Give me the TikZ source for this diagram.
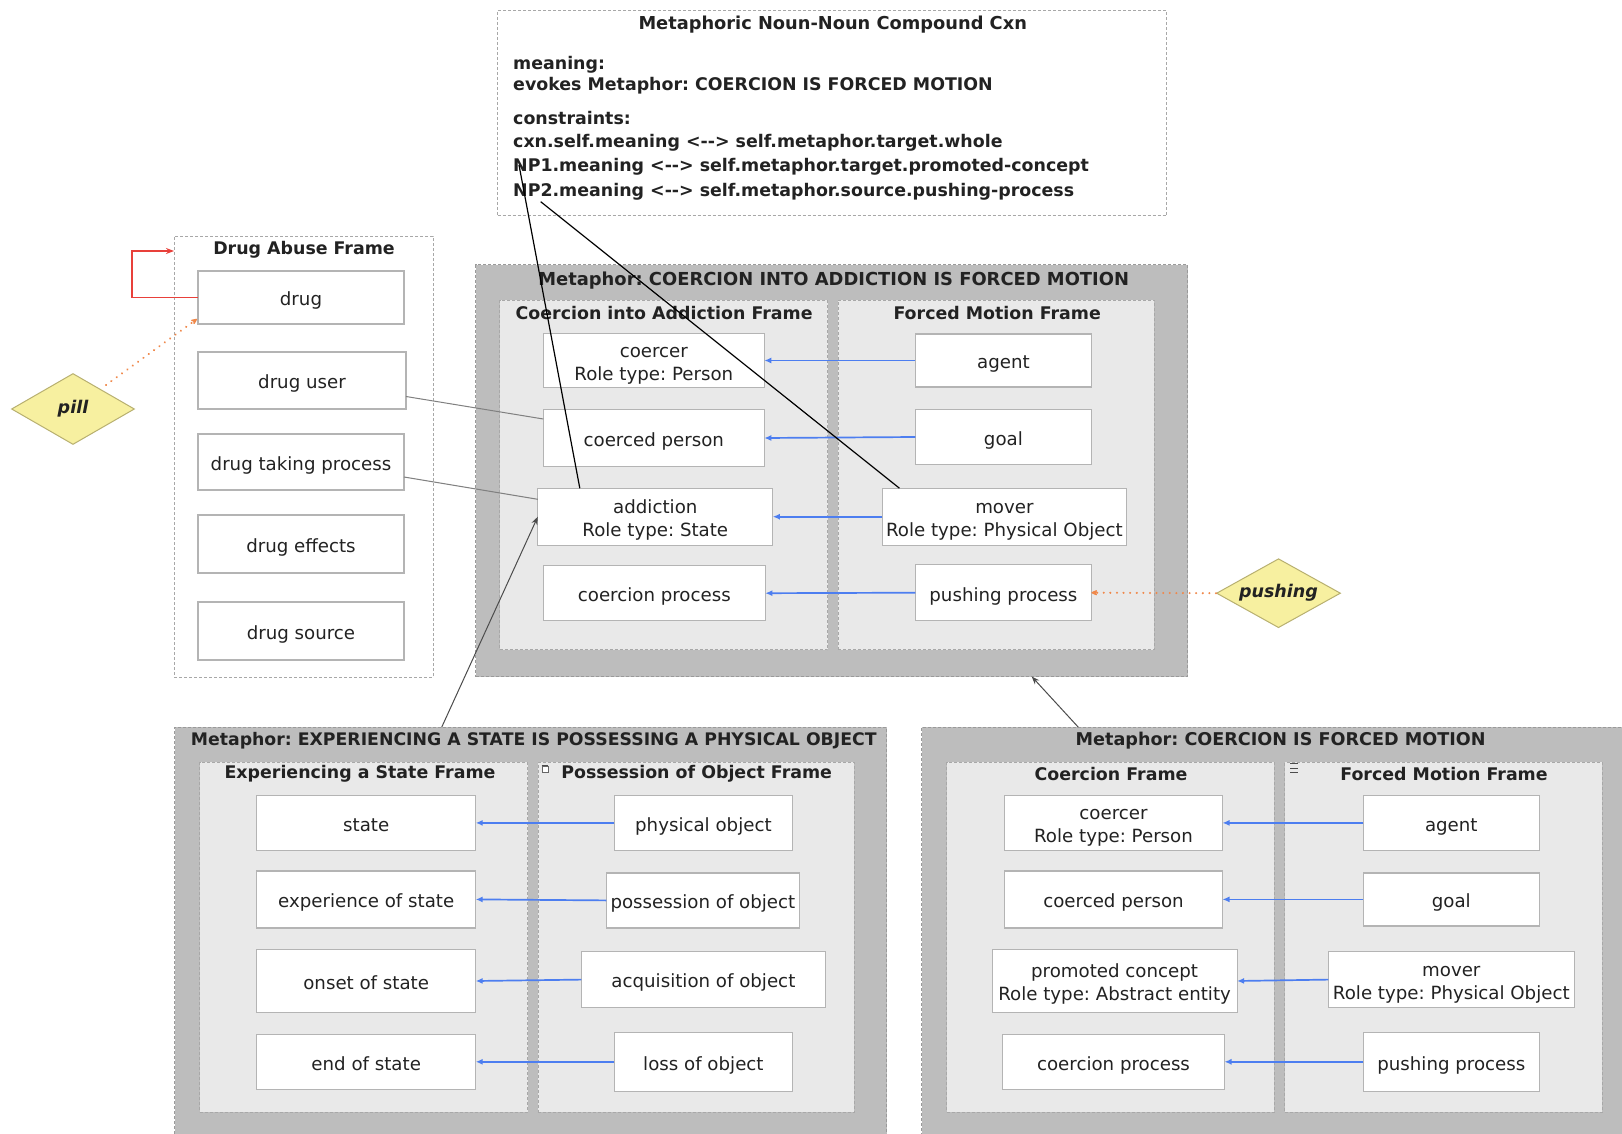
\documentclass[tikz,border=0pt]{standalone}
\usepackage{fontspec}
\setmainfont{DejaVu Sans}
\usetikzlibrary{shapes.geometric,arrows.meta,calc}
\frenchspacing
\definecolor{metafill}{HTML}{BDBDBD}
\definecolor{metaedge}{HTML}{9A9A9A}
\definecolor{framefill}{HTML}{E9E9E9}
\definecolor{frameedge}{HTML}{A8A8A8}
\definecolor{boxedge}{HTML}{B4B4B4}
\definecolor{mapblue}{HTML}{4D7EF0}
\definecolor{evorange}{HTML}{F0884A}
\definecolor{linkred}{HTML}{E8403A}
\definecolor{dfill}{HTML}{F7F0A0}
\definecolor{dedge}{HTML}{B8B070}
\definecolor{txt}{HTML}{222222}
\newcommand\rt[1]{\begin{tabular}{@{}c@{}}\rule{0pt}{23.5pt}#1\end{tabular}}
\tikzset{
  rolebox/.style={draw=boxedge, fill=white, line width=1.2pt, inner sep=0pt, outer sep=0pt,
    text=txt, font=\fontsize{18.2}{23}\selectfont},
  plainframe/.style={draw=frameedge, fill=white, line width=0.8pt, dash pattern=on 3pt off 2pt,
    inner sep=0pt, outer sep=0pt},
  metabox/.style={draw=metaedge, fill=metafill, line width=0.8pt, dash pattern=on 3pt off 2pt,
    inner sep=0pt, outer sep=0pt},
  innerframe/.style={draw=frameedge, fill=framefill, line width=0.8pt, dash pattern=on 3pt off 2pt,
    inner sep=0pt, outer sep=0pt},
  ttl/.style={text=txt, inner sep=0pt, font=\bfseries\fontsize{#1}{20}\selectfont},
  ttl/.default=17.4,
  cxnline/.style={text=txt, inner sep=0pt, anchor=base west, font=\bfseries\fontsize{17.4}{20}\selectfont},
  evoke/.style={diamond, draw=dedge, fill=dfill, line width=1pt, aspect=1.8, inner sep=0pt,
    text=txt, font=\bfseries\itshape\fontsize{17.5}{22}\selectfont},
  maparrow/.style={draw=mapblue, line width=1.7pt, -{Latex[length=7pt,width=6pt]}},
  evarrow/.style={draw=evorange, line width=2.2pt, line cap=round, dash pattern=on 0.1pt off 6.5pt,
    -{Stealth[length=8pt,width=7pt,round]}},
  grayline/.style={draw=gray, line width=1pt},
  thinarrow/.style={draw=black!70, line width=1pt, -{Stealth[length=8pt,width=6pt]}},
  bindline/.style={draw=black, line width=1.2pt},
  redarrow/.style={draw=linkred, line width=1.4pt, -{Stealth[length=8pt,width=6pt]}},
}
\begin{document}
\begin{tikzpicture}[x=1pt,y=-1pt]
\clip (0,0) rectangle (1622,1134);
\fill[white] (0,0) rectangle (1622,1134);

% ---------- top construction box ----------
\node[plainframe, minimum width=669.3, minimum height=204.9] (cxn) at (832.2,112.8) {};
\node[ttl=17.8] (cxnttl) at (832.7,24.5) {Metaphoric Noun-Noun Compound Cxn};
\node[cxnline] (l1) at (513,69.6) {meaning:};
\node[cxnline] (l2) at (513,90.3) {evokes Metaphor: COERCION IS FORCED MOTION};
\node[cxnline] (l3) at (513,124.4) {constraints:};
\node[cxnline] (l4) at (513,147.2) {cxn.self.meaning <-{}-> self.metaphor.target.whole};
\node[cxnline] (l5) at (513,172) {NP1.meaning <-{}-> self.metaphor.target.promoted-concept};
\node[cxnline] (l6) at (513,196.8) {NP2.meaning <-{}-> self.metaphor.source.pushing-process};

% ---------- drug abuse frame ----------
\node[plainframe, minimum width=259, minimum height=441] (dframe) at (303.5,456.5) {};
\node[ttl] (dttl) at (304,250) {Drug Abuse Frame};
\node[rolebox, minimum width=206, minimum height=53] (drug) at (301,297.5) {\rt{drug}};
\node[rolebox, minimum width=208, minimum height=57] (duser) at (302,380.5) {\rt{drug user}};
\node[rolebox, minimum width=206, minimum height=56] (dtp) at (301,462) {\rt{drug taking process}};
\node[rolebox, minimum width=206, minimum height=58] (deff) at (301,544) {\rt{drug effects}};
\node[rolebox, minimum width=206, minimum height=58] (dsrc) at (301,631) {\rt{drug source}};
\node[evoke, minimum width=123, minimum height=71] (pill) at (73,409) {pill};

% ---------- metaphor A ----------
\node[metabox, minimum width=711.7, minimum height=411.7] (A) at (831.65,470.65) {};
\node[ttl=17.9] (Attl) at (833.7,280.5) {Metaphor: COERCION INTO ADDICTION IS FORCED MOTION};
\node[innerframe, minimum width=327.9, minimum height=349.6] (A1) at (663.55,474.8) {};
\node[ttl] (A1ttl) at (664.1,312.8) {Coercion into Addiction Frame};
\node[innerframe, minimum width=316.5, minimum height=349.6] (A2) at (996.15,474.8) {};
\node[ttl] (A2ttl) at (997.2,312.8) {Forced Motion Frame};
\node[rolebox, minimum width=221, minimum height=53] (coercerA) at (653.8,360.5) {\rt{coercer\\Role type: Person}};
\node[rolebox, minimum width=221, minimum height=57] (coercedA) at (653.8,438) {\rt{coerced person}};
\node[rolebox, minimum width=235, minimum height=57] (addA) at (655.3,516.7) {\rt{addiction\\Role type: State}};
\node[rolebox, minimum width=222, minimum height=55] (cprocA) at (654.3,593.2) {\rt{coercion process}};
\node[rolebox, minimum width=176, minimum height=53] (agentA) at (1003.4,360.5) {\rt{agent}};
\node[rolebox, minimum width=176, minimum height=55] (goalA) at (1003.4,437) {\rt{goal}};
\node[rolebox, minimum width=244, minimum height=57] (moverA) at (1004.4,516.7) {\rt{mover\\Role type: Physical Object}};
\node[rolebox, minimum width=176, minimum height=56] (pushA) at (1003.4,592.7) {\rt{pushing process}};
\node[evoke, minimum width=124, minimum height=69] (pushd) at (1278.5,593.2) {pushing};

% ---------- metaphor B ----------
\node[metabox, minimum width=711.7, minimum height=417.8] (B) at (530.65,936.1) {};
\node[ttl=17.3] (Bttl) at (533.8,740.5) {Metaphor: EXPERIENCING A STATE IS POSSESSING A PHYSICAL OBJECT};
\node[innerframe, minimum width=327.9, minimum height=349.6] (B1) at (363.55,937.2) {};
\node[ttl] (B1ttl) at (360,774) {Experiencing a State Frame};
\node[innerframe, minimum width=316.5, minimum height=349.6] (B2) at (696.15,937.2) {};
\node[ttl] (B2ttl) at (696.7,774) {Possession of Object Frame};
\node[rolebox, minimum width=219, minimum height=55] (stateB) at (366.2,822.9) {\rt{state}};
\node[rolebox, minimum width=219, minimum height=57] (expB) at (366.2,899.4) {\rt{experience of state}};
\node[rolebox, minimum width=219, minimum height=63] (onsetB) at (366.2,981) {\rt{onset of state}};
\node[rolebox, minimum width=219, minimum height=55] (endB) at (366.2,1061.8) {\rt{end of state}};
\node[rolebox, minimum width=178, minimum height=55] (physB) at (703.4,822.9) {\rt{physical object}};
\node[rolebox, minimum width=193, minimum height=55] (possB) at (702.9,900.4) {\rt{possession of object}};
\node[rolebox, minimum width=244, minimum height=56] (acqB) at (703.4,979.6) {\rt{acquisition of object}};
\node[rolebox, minimum width=178, minimum height=59] (lossB) at (703.4,1061.8) {\rt{loss of object}};

% ---------- metaphor C ----------
\node[metabox, minimum width=718.3, minimum height=417.8] (C) at (1280.85,936.1) {};
\node[ttl=17.6] (Cttl) at (1280.6,740.5) {Metaphor: COERCION IS FORCED MOTION};
\node[innerframe, minimum width=327.9, minimum height=349.6] (C1) at (1110.45,937.2) {};
\node[ttl] (C1ttl) at (1111,774) {Coercion Frame};
\node[innerframe, minimum width=317.6, minimum height=349.6] (C2) at (1443.5,937.2) {};
\node[ttl] (C2ttl) at (1444,774) {Forced Motion Frame};
\node[rolebox, minimum width=218, minimum height=55] (coercerC) at (1113.5,822.9) {\rt{coercer\\Role type: Person}};
\node[rolebox, minimum width=218, minimum height=57] (coercedC) at (1113.5,899.4) {\rt{coerced person}};
\node[rolebox, minimum width=245, minimum height=63] (promC) at (1114.6,981) {\rt{promoted concept\\Role type: Abstract entity}};
\node[rolebox, minimum width=222, minimum height=55] (cprocC) at (1113.5,1061.8) {\rt{coercion process}};
\node[rolebox, minimum width=176, minimum height=55] (agentC) at (1451.3,822.9) {\rt{agent}};
\node[rolebox, minimum width=176, minimum height=53] (goalC) at (1451.3,899.4) {\rt{goal}};
\node[rolebox, minimum width=246, minimum height=56] (moverC) at (1451.3,979.6) {\rt{mover\\Role type: Physical Object}};
\node[rolebox, minimum width=176, minimum height=59] (pushC) at (1451.3,1061.8) {\rt{pushing process}};

% small collapse icons
\node[draw=black!60, fill=white, line width=0.6pt, minimum width=6, minimum height=6, inner sep=0pt] (iconB) at (545,769) {};
\draw[black!70, line width=1.2pt] (iconB.north west) -- (iconB.north east);
\node[inner sep=0pt, minimum width=7, minimum height=9] (iconC) at (1294,768) {};
\draw[black!70, line width=1pt] (iconC.north west) -- (iconC.north east)
  (iconC.west) -- (iconC.east) (iconC.south west) -- (iconC.south east);

% ---------- mapping arrows ----------
\draw[maparrow] (agentA.west) -- (coercerA.east);
\draw[maparrow] (goalA.west) -- (coercedA.east);
\draw[maparrow] (moverA.west) -- (addA.east);
\draw[maparrow] (pushA.west) -- (cprocA.east);
\draw[maparrow] (physB.west) -- (stateB.east);
\draw[maparrow] (possB.west) -- (expB.east);
\draw[maparrow] (acqB.west) -- (onsetB.east);
\draw[maparrow] (lossB.west) -- (endB.east);
\draw[maparrow] (agentC.west) -- (coercerC.east);
\draw[maparrow] (goalC.west) -- (coercedC.east);
\draw[maparrow] (moverC.west) -- (promC.east);
\draw[maparrow] (pushC.west) -- (cprocC.east);

% ---------- other links ----------
\draw[grayline] ($(duser.east)+(0,16)$) -- ($(coercedA.west)+(0,-19)$);
\draw[grayline] ($(dtp.east)+(0,15)$) -- ($(addA.west)+(0,-17.4)$);
\draw[redarrow] (drug.west) -- ++(-66,0) |- ($(dframe.north west)+(0,15)$);
\draw[evarrow] ($(pill.north east)+(2,-6)$) -- ($(drug.south west)+(-1,-5)$);
\draw[evarrow] (pushd.west) -- (pushA.east);
\draw[thinarrow] ($(B.north west)+(266.9,0)$) -- (addA.west);
\draw[thinarrow] ($(C.north west)+(156.6,0)$) -- ($(A.south west)+(555.9,0)$);
\coordinate (np1) at (519,165);
\coordinate (np2) at (540.7,201.7);
\draw[bindline] (np1) -- ($(addA.north west)+(42,0)$);
\draw[bindline] (np2) -- ($(moverA.north west)+(17,0)$);
\end{tikzpicture}
\end{document}
